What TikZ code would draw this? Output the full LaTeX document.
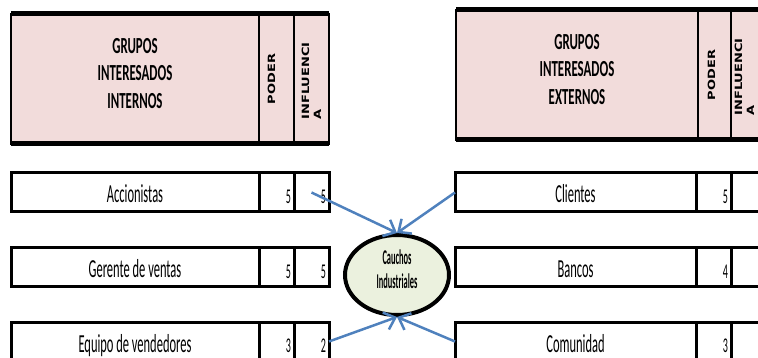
\documentclass[tikz,border=0pt]{standalone}
\usepackage{fontspec}
\usetikzlibrary{arrows.meta,positioning,shapes.geometric}
\newfontfamily\filafont[FakeStretch=0.48]{Carlito}
\newfontfamily\titfont[FakeStretch=0.56]{Carlito}
\newfontfamily\elipfont[FakeStretch=0.4]{Carlito}
\newfontfamily\rotfont[FakeStretch=1.3]{DejaVu Sans}
\definecolor{rosa}{HTML}{F2DCDB}
\definecolor{oliva}{HTML}{EBF1DE}
\definecolor{azul}{HTML}{4F81BD}
\tikzset{
  celda/.style={draw, line width=3pt, outer sep=0pt, minimum height=39pt,
    text height=21pt, text depth=0pt, font=\filafont\fontsize{26}{30}\selectfont},
  numero/.style={draw, line width=3pt, outer sep=0pt, minimum height=39pt,
    inner sep=3pt, text width=29pt, align=right, text height=22pt, text depth=0pt,
    font=\filafont\fontsize{21}{25}\selectfont},
  cabecera/.style={draw, line width=2.5pt, fill=rosa, outer sep=0pt, minimum height=130pt},
  titulo/.style={align=center, text depth=12pt, font=\titfont\bfseries\fontsize{23}{27.5}\selectfont},
  vertical/.style={rotate=90, align=left, inner sep=0pt, font=\rotfont\bfseries\fontsize{10}{12}\selectfont},
  borde/.style={line width=5pt},
  flecha/.style={azul, line width=2.5pt, -{Straight Barb[length=10pt,width=18pt]}},
}
\begin{document}
\begin{tikzpicture}[x=1pt,y=-1pt]
	%%%%% START %%%%%
	\useasboundingbox (0,0) rectangle (758,358);
	\clip (0,0) rectangle (758,358);

	% internos
	\node[cabecera, titulo, minimum width=248pt] (intH) at (135,79) {GRUPOS\\INTERESADOS\\INTERNOS};
	\node[cabecera, minimum width=35pt, right=0pt of intH] (intP) {};
	\node[cabecera, minimum width=35pt, right=0pt of intP] (intI) {};
	\node[vertical] (intPt) at ([xshift=-5pt]intP.center) {PODER};
	\node[vertical] (intIt) at ([yshift=-2pt]intI.center) {INFLUENCI\\A};
	\draw[borde] (intH.north west) -- (intI.north east);
	\draw[borde] (intH.south west) -- (intI.south east);

	% externos
	\node[cabecera, titulo, minimum width=242pt] (extH) at (577,75) {GRUPOS\\INTERESADOS\\EXTERNOS};
	\node[cabecera, minimum width=33pt, right=0pt of extH] (extP) {};
	\node[cabecera, minimum width=35pt, right=0pt of extP] (extI) {};
	\node[vertical] (extPt) at ([xshift=-3pt]extP.center) {PODER};
	\node[vertical] (extIt) at ([xshift=-4pt,yshift=-2pt]extI.center) {INFLUENCI\\A};
	\draw[borde] (extH.north west) -- (extI.north east);
	\draw[borde] (extH.south west) -- (extI.south east);

	% filas internas
	\node[celda, minimum width=248pt] (accion) at (135,192.5) {Accionistas};
	\node[numero, right=0pt of accion] (accionP) {5};
	\node[numero, right=0pt of accionP] (accionI) {5};

	\node[celda, minimum width=248pt] (gerente) at (135,267.5) {Gerente de ventas};
	\node[numero, right=0pt of gerente] (gerenteP) {5};
	\node[numero, right=0pt of gerenteP] (gerenteI) {5};

	\node[celda, minimum width=248pt] (equipo) at (135,341.5) {Equipo de vendedores};
	\node[numero, right=0pt of equipo] (equipoP) {3};
	\node[numero, right=0pt of equipoP] (equipoI) {2};

	% filas externas
	\node[celda, minimum width=241pt] (clientes) at (575.5,192.5) {Clientes};
	\node[numero, right=0pt of clientes] (clientesP) {5};
	\node[numero, right=0pt of clientesP] (clientesI) {};

	\node[celda, minimum width=241pt] (bancos) at (575.5,267.5) {Bancos};
	\node[numero, right=0pt of bancos] (bancosP) {4};
	\node[numero, right=0pt of bancosP] (bancosI) {};

	\node[celda, minimum width=241pt] (comunidad) at (575.5,341.5) {Comunidad};
	\node[numero, right=0pt of comunidad] (comunidadP) {3};
	\node[numero, right=0pt of comunidadP] (comunidadI) {};

	% empresa
	\node[ellipse, draw, line width=4pt, fill=oliva, minimum width=104pt, minimum height=80pt,
		inner sep=0pt, align=center, text depth=12pt,
		font=\elipfont\bfseries\fontsize{21}{24}\selectfont] (caucho) at (397,275) {Cauchos\\Industriales};

	\draw[flecha] (accionI.center) -- (caucho.north);
	\draw[flecha] (clientes.west) -- (caucho.north);
	\draw[flecha] (equipoI.east) -- (caucho.south);
	\draw[flecha] (comunidad.west) -- (caucho.south);
	%%%%% END %%%%%
\end{tikzpicture}
\end{document}
